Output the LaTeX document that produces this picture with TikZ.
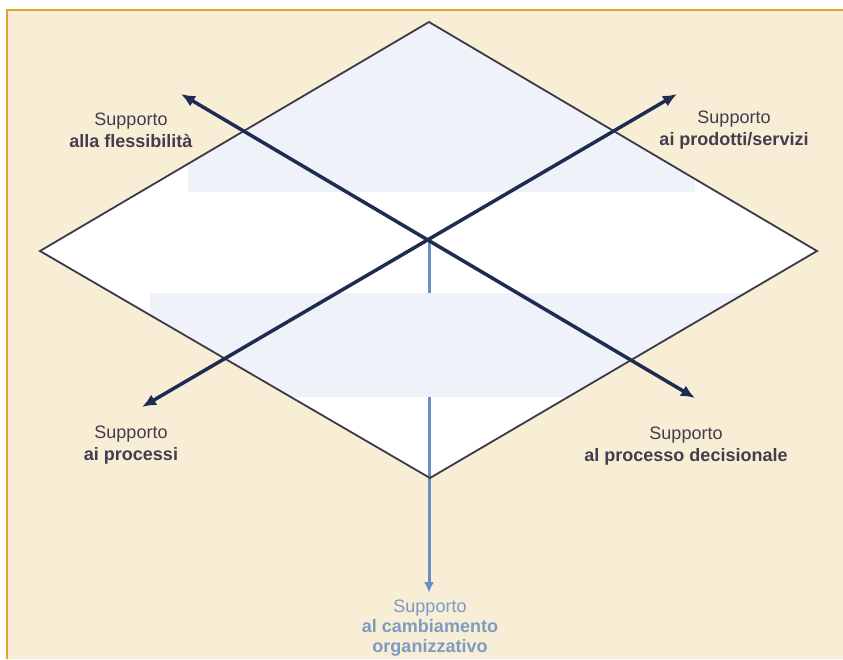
\documentclass[tikz,border=0pt]{standalone}
\usepackage{fontspec}
\setmainfont{Liberation Sans}
\usetikzlibrary{arrows.meta}
\definecolor{beige}{HTML}{F8EDD5}
\definecolor{framec}{HTML}{E3A32B}
\definecolor{bandc}{HTML}{EFF2F8}
\definecolor{navy}{HTML}{1E2B52}
\definecolor{outl}{HTML}{3B3A48}
\definecolor{lblue}{HTML}{6990C4}
\definecolor{txt}{HTML}{433D4D}
\definecolor{txtblue}{HTML}{7D9CC4}
\begin{document}
\begin{tikzpicture}[x=1pt,y=-1pt,
  axisline/.style={draw=navy, line width=3.5pt, {Latex[length=14pt,width=12pt]}-{Latex[length=14pt,width=12pt]}},
  blueaxis/.style={draw=lblue, line width=3pt, -{Latex[length=11pt,width=10pt]}},
  outline/.style={draw=outl, line width=1.8pt, line join=miter},
  lbl/.style={align=center, text=txt, font=\fontsize{18}{22}\selectfont, inner sep=0pt},
  lblb/.style={align=center, text=txtblue, font=\fontsize{18}{20}\selectfont, inner sep=0pt}]
\useasboundingbox (0,0) rectangle (843,659);
\fill[white] (0,0) rectangle (843,659);
\fill[beige] (7,10) rectangle (843,659);
\draw[framec, line width=1.5pt] (7,659) -- (7,10) -- (843,10);
\coordinate (T) at (429,22);
\coordinate (L) at (40,251);
\coordinate (R) at (817,251);
\coordinate (B) at (430,478);
\coordinate (O) at (429,240);
\coordinate (NW) at (181,94);
\coordinate (SE) at (695,398);
\coordinate (NE) at (677,94);
\coordinate (SW) at (142,407);
\coordinate (S) at (429,593);
\fill[white] (T) -- (R) -- (B) -- (L) -- cycle;
\begin{scope}
  \clip (T) -- (R) -- (B) -- (L) -- cycle;
  \fill[bandc] (188,0) rectangle (695,192);
\end{scope}
\draw[blueaxis] (O) -- (S);
\begin{scope}
  \clip (T) -- (R) -- (B) -- (L) -- cycle;
  \fill[bandc] (150,293) rectangle (760,397);
\end{scope}
\draw[outline] (T) -- (R) -- (B) -- (L) -- cycle;
\draw[axisline] (NW) -- (SE);
\draw[axisline] (SW) -- (NE);
\node[lbl] (lnw) at (131,130) {Supporto\\\textbf{alla flessibilità}};
\node[lbl] (lne) at (734,130) {Supporto\\\textbf{ai prodotti/servizi}};
\node[lbl] (lsw) at (131,445) {Supporto\\\textbf{ai processi}};
\node[lbl] (lse) at (686,446) {Supporto\\\textbf{al processo decisionale}};
\node[lblb] (ls) at (430,628) {Supporto\\\textbf{al cambiamento}\\\textbf{organizzativo}};
\end{tikzpicture}
\end{document}
